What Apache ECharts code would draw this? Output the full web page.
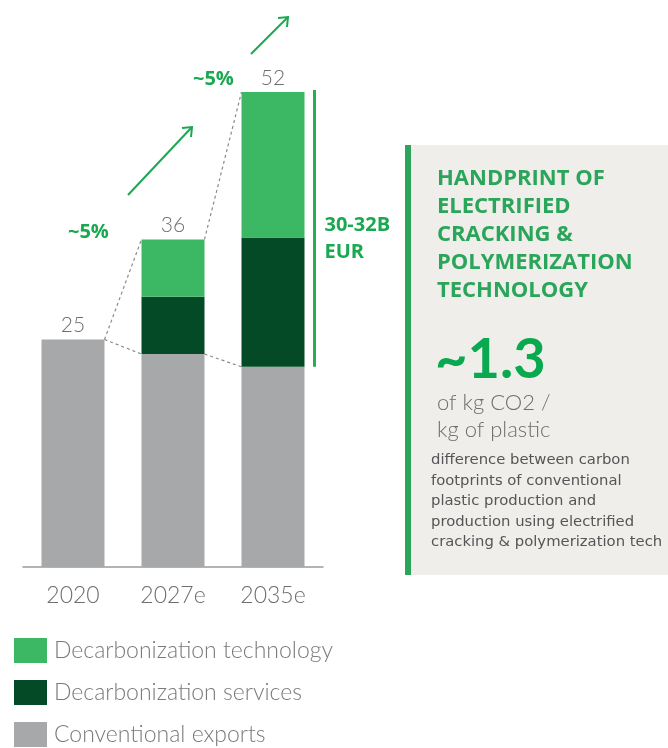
<!DOCTYPE html>
<html>
<head>
<meta charset="utf-8">
<script src="https://cdn.jsdelivr.net/npm/echarts@6/dist/echarts.min.js"></script>
<style>
  html, body { margin: 0; padding: 0; background: #fff; }
  #chart { width: 668px; height: 748px; }
</style>
</head>
<body>
<div id="chart"></div>
<script>
const categories = ['2020', '2027e', '2035e'];
const conventional = [25, 23.4, 22];
const services = [0, 6.3, 14.2];
const technology = [0, 6.3, 16];
const totalLabels = ['25', '36', '52'];

const seriesNames = ['Decarbonization technology', 'Decarbonization services', 'Conventional exports'];
const colors = {
    tech: '#3cb764',
    services: '#044a26',
    conventional: '#a7a8aa',
    green: '#1aa851',
    text: '#6d6e70'
};

const barWidth = 63;
const lightFont = 'Lato, "Open Sans", sans-serif';
const boldFont = '"Open Sans", Lato, sans-serif';

let totals = [];
let connectorData = [];
for (let i = 0; i < categories.length; i++) {
    totals.push(conventional[i] + services[i] + technology[i]);
}
for (let i = 1; i < categories.length; i++) {
    connectorData.push([i, totals[i - 1], conventional[i - 1], totals[i], conventional[i]]);
}

function renderConnectors(params, api) {
    const i = api.value(0);
    const half = barWidth / 2;
    const prevTop = api.coord([i - 1, api.value(1)]);
    const prevConv = api.coord([i - 1, api.value(2)]);
    const curTop = api.coord([i, api.value(3)]);
    const curConv = api.coord([i, api.value(4)]);
    const style = { stroke: '#8a8a8a', lineWidth: 1.2, lineDash: [3, 3] };
    return {
        type: 'group',
        children: [{
            type: 'line',
            shape: { x1: prevTop[0] + half, y1: prevTop[1], x2: curTop[0] - half, y2: curTop[1] },
            style: style
        }, {
            type: 'line',
            shape: { x1: prevConv[0] + half, y1: prevConv[1], x2: curConv[0] - half, y2: curConv[1] },
            style: style
        }]
    };
}

function renderTotals(params, api) {
    const p = api.coord([api.value(0), api.value(1)]);
    return {
        type: 'text',
        x: p[0],
        y: p[1] - 14,
        style: {
            text: totalLabels[params.dataIndex],
            fill: colors.text,
            font: '300 21px ' + lightFont,
            align: 'center',
            verticalAlign: 'middle'
        }
    };
}

function renderBracket(params, api) {
    const i = api.value(0);
    const top = api.coord([i, api.value(1)]);
    const bottom = api.coord([i, api.value(2)]);
    const x = top[0] + barWidth / 2 + 10;
    return {
        type: 'group',
        children: [{
            type: 'line',
            shape: { x1: x, y1: top[1] - 2, x2: x, y2: bottom[1] },
            style: { stroke: '#21b053', lineWidth: 3 }
        }, {
            type: 'text',
            x: x + 10,
            y: (top[1] + bottom[1]) / 2 + 9,
            style: {
                text: '30-32B\nEUR',
                fill: colors.green,
                font: 'bold 20px ' + boldFont,
                lineHeight: 27,
                verticalAlign: 'middle'
            }
        }]
    };
}

const panelLines = [
    'difference between carbon',
    'footprints of conventional',
    'plastic production and',
    'production using electrified',
    'cracking & polymerization tech'
];

const chart = echarts.init(document.getElementById('chart'));
chart.setOption({
    animation: false,
    backgroundColor: '#ffffff',
    grid: {
        left: 23,
        width: 300,
        top: 21,
        height: 546
    },
    legend: {
        data: seriesNames,
        orient: 'vertical',
        left: 14,
        top: 638,
        padding: 0,
        itemWidth: 33,
        itemHeight: 25,
        itemGap: 17,
        icon: 'rect',
        selectedMode: false,
        textStyle: {
            fontSize: 23,
            fontWeight: 300,
            color: '#7a7a7c',
            fontFamily: lightFont,
            padding: [0, 0, 0, 2]
        }
    },
    xAxis: {
        type: 'category',
        data: categories,
        axisLine: { lineStyle: { color: '#9a9a9a', width: 1.5 } },
        axisTick: { show: false },
        axisLabel: {
            margin: 17,
            fontSize: 23,
            fontWeight: 300,
            color: colors.text,
            fontFamily: lightFont
        }
    },
    yAxis: {
        type: 'value',
        min: 0,
        max: 60,
        show: false,
        splitLine: { show: false }
    },
    series: [{
        name: seriesNames[2],
        type: 'bar',
        stack: 'total',
        barWidth: barWidth,
        itemStyle: { color: colors.conventional },
        data: conventional
    }, {
        name: seriesNames[1],
        type: 'bar',
        stack: 'total',
        barWidth: barWidth,
        itemStyle: { color: colors.services },
        data: services
    }, {
        name: seriesNames[0],
        type: 'bar',
        stack: 'total',
        barWidth: barWidth,
        itemStyle: { color: colors.tech },
        data: technology
    }, {
        type: 'custom',
        renderItem: renderConnectors,
        data: connectorData,
        silent: true,
        z: 1
    }, {
        type: 'custom',
        renderItem: renderTotals,
        data: totals.map(function (v, i) { return [i, v]; }),
        silent: true
    }, {
        type: 'custom',
        renderItem: renderBracket,
        data: [[2, totals[2], conventional[2]]],
        silent: true
    }],
    graphic: [
        // growth arrows
        {
            type: 'line',
            shape: { x1: 128, y1: 195, x2: 192, y2: 127 },
            style: { stroke: colors.green, lineWidth: 2 }
        },
        {
            type: 'polyline',
            shape: { points: [[182, 128], [192, 127], [191, 137]] },
            style: { stroke: colors.green, lineWidth: 2, fill: null }
        },
        {
            type: 'line',
            shape: { x1: 251, y1: 54, x2: 288, y2: 17 },
            style: { stroke: colors.green, lineWidth: 2 }
        },
        {
            type: 'polyline',
            shape: { points: [[278, 18], [288, 17], [287, 27]] },
            style: { stroke: colors.green, lineWidth: 2, fill: null }
        },
        {
            type: 'text',
            left: 68,
            top: 222,
            style: { text: '~5%', fill: colors.green, font: 'bold 20px ' + boldFont }
        },
        {
            type: 'text',
            left: 193,
            top: 69,
            style: { text: '~5%', fill: colors.green, font: 'bold 20px ' + boldFont }
        },
        // side panel
        {
            type: 'rect',
            shape: { x: 405, y: 145, width: 263, height: 430 },
            style: { fill: '#efeeeb' }
        },
        {
            type: 'rect',
            shape: { x: 405, y: 145, width: 6, height: 430 },
            style: { fill: '#2aa55a' }
        },
        {
            type: 'text',
            left: 437,
            top: 165,
            style: {
                text: 'HANDPRINT OF\nELECTRIFIED\nCRACKING &\nPOLYMERIZATION\nTECHNOLOGY',
                fill: '#2aa55a',
                font: 'bold 22px ' + boldFont,
                lineHeight: 28
            }
        },
        {
            type: 'text',
            left: 435,
            top: 332,
            style: { text: '~1.3', fill: '#0aa94f', font: 'bold 56px ' + lightFont }
        },
        {
            type: 'text',
            left: 437,
            top: 389,
            style: {
                text: 'of kg CO2 /\nkg of plastic',
                fill: colors.text,
                font: '300 22px ' + lightFont,
                lineHeight: 27
            }
        },
        {
            type: 'text',
            left: 431,
            top: 450,
            style: {
                text: panelLines.join('\n'),
                fill: '#555557',
                font: '14.8px "DejaVu Sans", sans-serif',
                lineHeight: 20.5
            }
        }
    ]
});
</script>
</body>
</html>
